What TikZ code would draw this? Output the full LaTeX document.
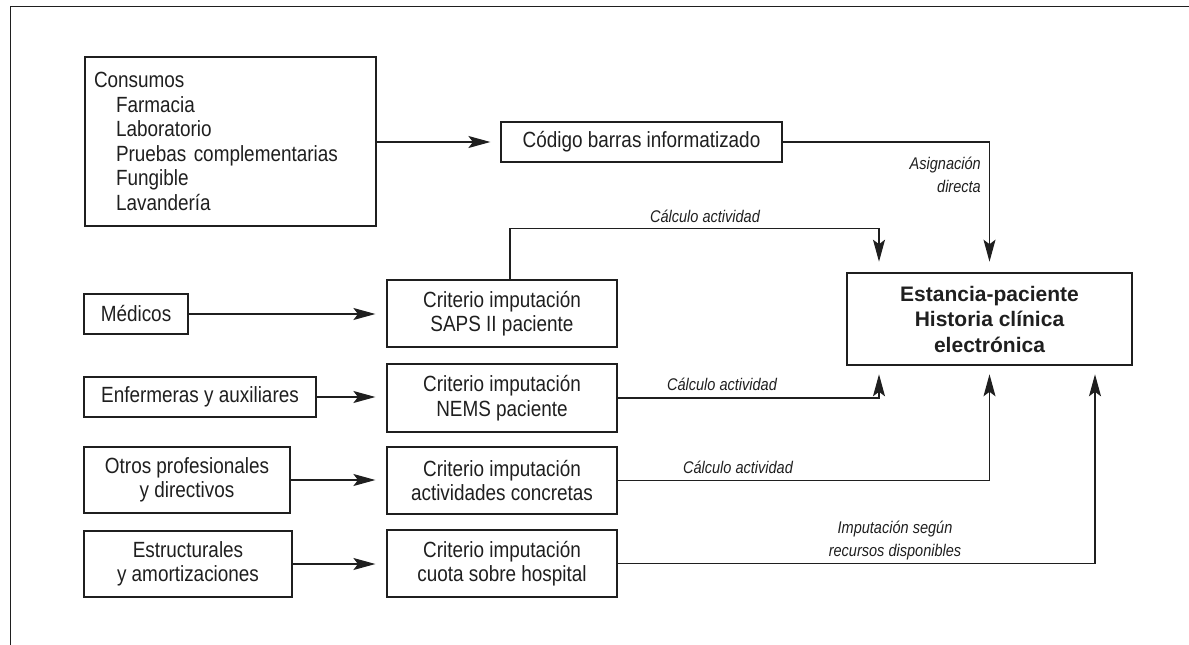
\documentclass[tikz,border=0pt]{standalone}
\usepackage{fontspec}
\setmainfont{Liberation Sans}[FakeStretch=0.86]
\newfontfamily\mainboxfont{Liberation Sans}
\usetikzlibrary{arrows.meta}
\definecolor{DiagInk}{HTML}{1F1F1F}

\begin{document}
\begin{tikzpicture}[
    x=1pt,y=-1pt,
    box/.style={draw=DiagInk,line width=1.2pt,inner sep=0pt,align=center,
      font=\fontsize{22}{24.5}\selectfont,text=DiagInk},
    mainbox/.style={box,line width=2.6pt,
      font=\mainboxfont\bfseries\fontsize{21}{25.5}\selectfont},
    lbl/.style={font=\itshape\fontsize{16.9}{23}\selectfont,text=DiagInk,inner sep=0pt},
    arr/.style={-{Stealth[length=22pt,width=12pt,inset=4.5pt]},line width=1.2pt,draw=DiagInk}
  ]
    \useasboundingbox (0,0) rectangle (1189,645);
    % frame
    \coordinate (frameTL) at (10,6);
    \draw[DiagInk,line width=1pt] (10,645) -- (frameTL) -- (1189,6);

    % sources
    \node[box,align=left,text width=273pt,inner xsep=9pt,minimum height=169pt] (cons) at (230.5,141.5)
      {Consumos\\ \hspace*{22pt}Farmacia\\ \hspace*{22pt}Laboratorio\\
       \hspace*{22pt}Pruebas complementarias\\ \hspace*{22pt}Fungible\\ \hspace*{22pt}Lavandería};
    \node[box,minimum width=104pt,minimum height=40pt] (med) at (136,314) {Médicos};
    \node[box,minimum width=232pt,minimum height=40pt] (enf) at (200,397) {Enfermeras y auxiliares};
    \node[box,minimum width=206pt,minimum height=66pt] (otros) at (187,480) {Otros profesionales\\y directivos};
    \node[box,minimum width=208pt,minimum height=66pt] (estr) at (188,564) {Estructurales\\y amortizaciones};

    % criteria
    \node[box,minimum width=281pt,minimum height=40pt] (cod) at (641.5,142) {Código barras informatizado};
    \node[box,minimum width=230pt,minimum height=67pt] (saps) at (502,313.5) {Criterio imputación\\SAPS II paciente};
    \node[box,minimum width=230pt,minimum height=68pt] (nems) at (502,398) {Criterio imputación\\NEMS paciente};
    \node[box,minimum width=230pt,minimum height=67pt] (act) at (502,480.5) {Criterio imputación\\actividades concretas};
    \node[box,minimum width=230pt,minimum height=67pt] (cuota) at (502,563.5) {Criterio imputación\\cuota sobre hospital};

    % target
    \node[mainbox,minimum width=285pt,minimum height=92pt] (main) at (989.5,319)
      {Estancia-paciente\\Historia clínica\\electrónica};
    \coordinate (inA) at ([xshift=-110.5pt]main.north);
    \coordinate (outA) at ([xshift=-110.5pt]main.south);
    \coordinate (outC) at ([xshift=105.5pt]main.south);

    % arrows
    \draw[arr,shorten >=10pt] (cons.east |- cod.west) -- (cod.west);
    \draw[arr,shorten >=11pt] (med) -- (saps.west |- med);
    \draw[arr,shorten >=11pt] (enf) -- (nems.west |- enf);
    \draw[arr,shorten >=11pt] (otros) -- (act.west |- otros);
    \draw[arr,shorten >=11pt] (estr) -- (cuota.west |- estr);
    \draw[arr,shorten >=10pt] (cod.east) -| (main.north);
    \draw[arr,shorten >=10pt] ([xshift=8pt]saps.north) -- ++(0,-51) -| (inA);
    \draw[arr,shorten >=8pt] (nems.east) -| (outA);
    \draw[arr,shorten >=8pt] (act.east) -| (main.south);
    \draw[arr,shorten >=8pt] (cuota.east) -| (outC);

    % labels
    \node[lbl,align=right,anchor=east] (asig) at (981,174.5) {Asignación\\directa};
    \node[lbl] (calcTop) at (705,216) {Cálculo actividad};
    \node[lbl] (calcNems) at (722,384) {Cálculo actividad};
    \node[lbl] (calcAct) at (738,467) {Cálculo actividad};
    \node[lbl,align=center] (imput) at (895,540.5) {Imputación según\\recursos disponibles};
  \end{tikzpicture}
\end{document}
